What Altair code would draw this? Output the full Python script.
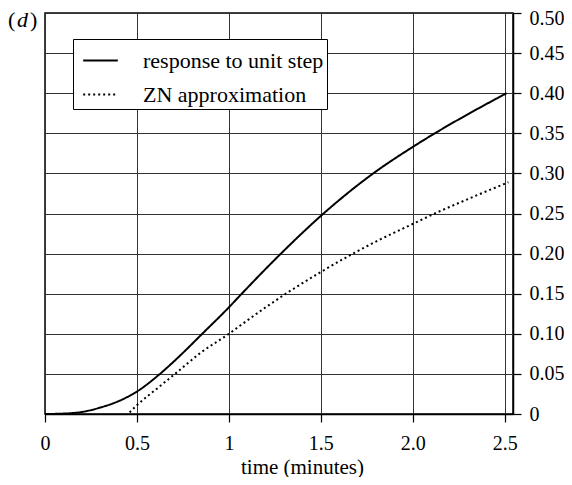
import altair as alt
import pandas as pd

# ---- data ----
step_t = [0.0, 0.1, 0.2, 0.3, 0.4, 0.5, 0.625, 0.74, 0.855, 1.0, 1.07, 1.283,
          1.5, 1.785, 2.0, 2.12, 2.255, 2.51]
step_v = [0.0, 0.0005, 0.0025, 0.008, 0.016, 0.028, 0.05, 0.074, 0.10, 0.133, 0.15, 0.20,
          0.247, 0.30, 0.333, 0.35, 0.368, 0.40]

zn_t = [0.46, 0.5, 0.6, 0.707, 0.85, 1.0, 1.06, 1.2, 1.31, 1.485, 1.675, 1.8,
        2.0, 2.12, 2.3, 2.52]
zn_v = [0.002, 0.011, 0.030, 0.05, 0.077, 0.100, 0.110, 0.133, 0.150, 0.175, 0.200, 0.215,
        0.237, 0.250, 0.268, 0.289]

series_names = ["response to unit step", "ZN approximation"]
x_ticks = [0, 0.5, 1, 1.5, 2, 2.5]
x_tick_labels = ["0", "0.5", "1", "1.5", "2.0", "2.5"]
y_ticks = [0, 0.05, 0.10, 0.15, 0.20, 0.25, 0.30, 0.35, 0.40, 0.45, 0.50]
panel_paren = ["(", ")"]
panel_letter = ["d"]

df = pd.concat([
    pd.DataFrame({"t": step_t, "v": step_v, "series": series_names[0]}),
    pd.DataFrame({"t": zn_t, "v": zn_v, "series": series_names[1]}),
])

FONT = "Liberation Serif"
x_label_expr = ("[" + ",".join(f"'{s}'" for s in x_tick_labels) + "][indexof(["
                + ",".join(str(v) for v in x_ticks) + "], datum.value)]")
y_label_expr = "datum.value == 0 ? '0' : format(datum.value, '.2f')"

lines = alt.Chart(df).mark_line(color="black", strokeWidth=2, interpolate="monotone",
                                strokeCap="butt").encode(
    x=alt.X("t:Q",
            scale=alt.Scale(domain=[0, 2.545], nice=False, zero=False),
            axis=alt.Axis(values=x_ticks, labelExpr=x_label_expr, title="time (minutes)",
                          grid=True, gridColor="#333", gridWidth=1,
                          domainColor="black", domainWidth=1.5,
                          tickColor="black", tickSize=8, tickWidth=1.2,
                          labelFont=FONT, labelFontSize=20, labelColor="black",
                          labelPadding=11, labelFlush=False,
                          titleFont=FONT, titleFontSize=21, titleFontWeight="normal",
                          titleColor="black", titleX=257, titleY=59,
                          titleBaseline="alphabetic")),
    y=alt.Y("v:Q",
            scale=alt.Scale(domain=[0, 0.5], nice=False),
            axis=alt.Axis(orient="right", values=y_ticks, labelExpr=y_label_expr, title=None,
                          grid=True, gridColor="#333", gridWidth=1,
                          domainColor="black", domainWidth=1.5,
                          tickColor="black", tickSize=8, tickWidth=1.2,
                          labelFont=FONT, labelFontSize=20, labelColor="black",
                          labelPadding=8, labelFlush=False,
                          labelOffset={"expr": "datum.value >= 0.5 ? 5 : 0"})),
    strokeDash=alt.StrokeDash("series:N",
                              scale=alt.Scale(domain=series_names, range=[[1, 0], [2, 3]]),
                              legend=alt.Legend(title=None, orient="none", legendX=28, legendY=26,
                                                strokeColor="black", fillColor="white",
                                                padding=3, symbolType="stroke",
                                                symbolSize=1200, symbolStrokeWidth=2,
                                                symbolStrokeColor="black", symbolOffset=6,
                                                labelFont=FONT, labelFontSize=22,
                                                labelColor="black", labelOffset=24,
                                                rowPadding=4, labelLimit=400)),
)

parens = alt.Chart(pd.DataFrame({"p": panel_paren, "dx": [-37, -15]})).mark_text(
    font=FONT, fontSize=22, color="black", align="left", baseline="alphabetic",
).encode(text="p:N", x=alt.X("dx:Q", scale=None), y=alt.value(14))

letter = alt.Chart(pd.DataFrame({"p": panel_letter})).mark_text(
    font=FONT, fontSize=22, fontStyle="italic", color="black",
    align="left", baseline="alphabetic",
).encode(text="p:N", x=alt.value(-28), y=alt.value(14))

chart = alt.layer(lines, parens, letter).properties(
    width=468, height=401,
    autosize="none",
    padding={"left": 37, "top": 5, "right": 51, "bottom": 63},
).configure_view(stroke="black", strokeWidth=1.5)

chart.save("out.html", embed_options={"renderer": "svg", "actions": False})
